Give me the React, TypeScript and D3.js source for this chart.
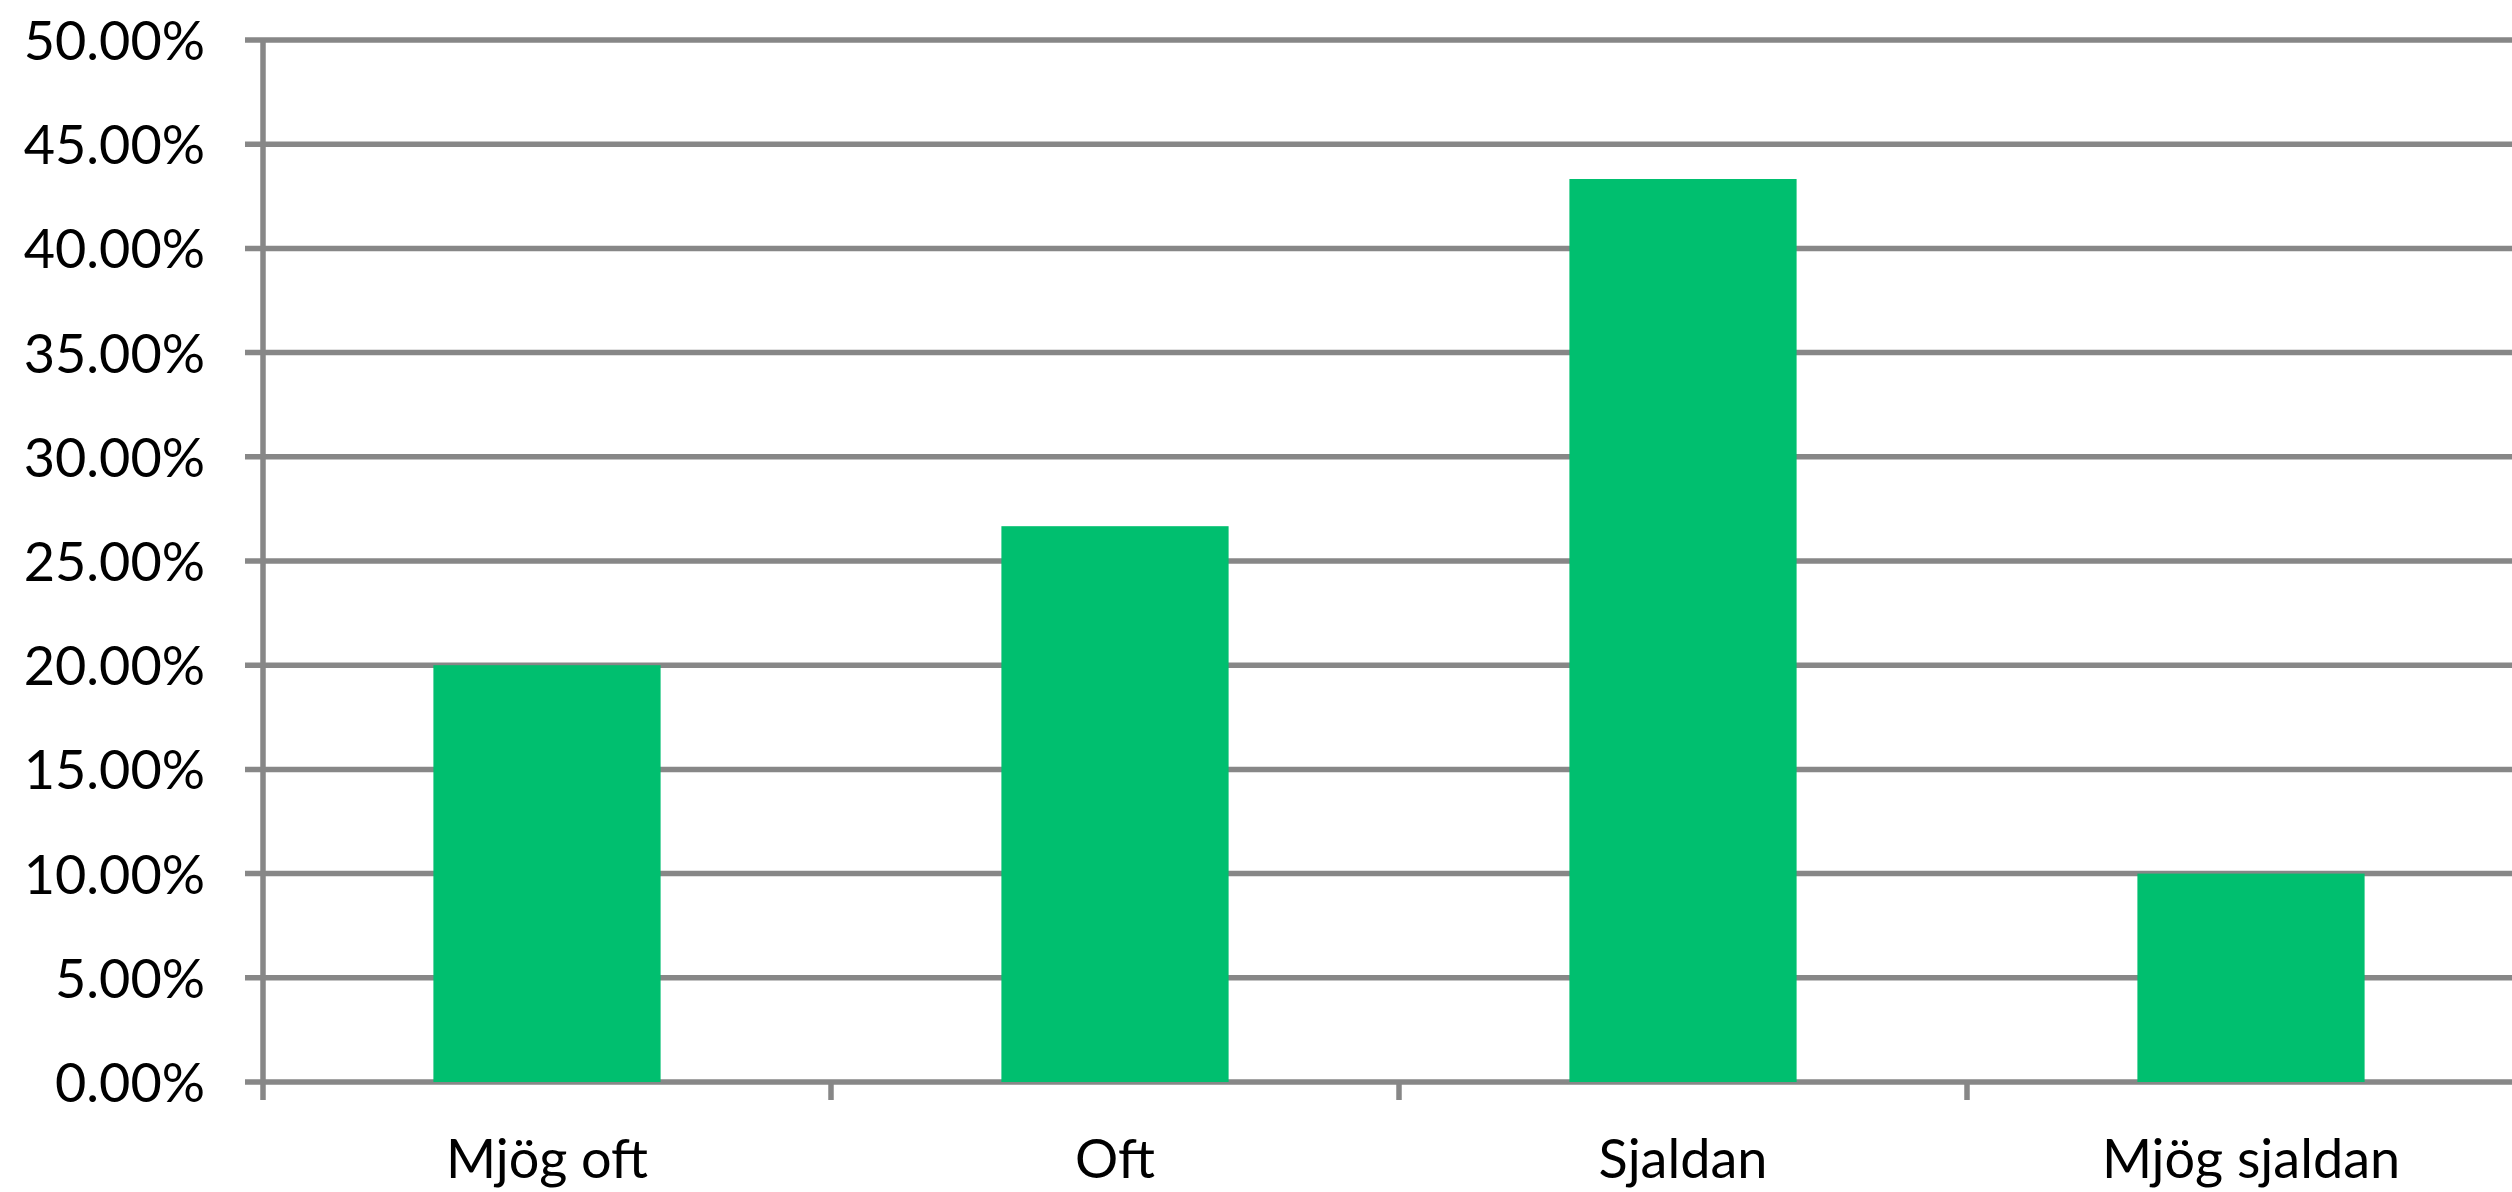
import * as d3 from "d3";

const categories = ["Mjög oft", "Oft", "Sjaldan", "Mjög sjaldan"];
const shares = [0.2, 0.2667, 0.4333, 0.1];
const yTicks = [0, 0.05, 0.1, 0.15, 0.2, 0.25, 0.3, 0.35, 0.4, 0.45, 0.5];

const WIDTH = 2512;
const HEIGHT = 1192;
const PLOT = { left: 263, top: 40, bottom: 1082, right: 2535 };
const GRID = "#878787";
const BAR = "#00bf6f";
const FONT = "Lato, 'Open Sans', sans-serif";

export default function App() {
    const x = d3
        .scaleBand<string>()
        .domain(categories)
        .range([PLOT.left, PLOT.right])
        .paddingInner(0.6)
        .paddingOuter(0.3);

    const y = d3.scaleLinear().domain([0, 0.5]).range([PLOT.bottom, PLOT.top]);
    const fmt = d3.format(".2%");

    const gridLines = yTicks.map((t) => (
        <line key={"g" + t} x1={PLOT.left - 18} x2={PLOT.right} y1={y(t)} y2={y(t)} stroke={GRID} strokeWidth={5.5} />
    ));

    const yLabels = yTicks.map((t) => (
        <text key={"l" + t} x={205} y={y(t) + 20} textAnchor="end" fontSize={54} fontFamily={FONT} fill="#000">
            {fmt(t)}
        </text>
    ));

    // category boundaries (tick marks below the axis)
    const xTicks = categories.slice(1).map((c) => {
        const bx = (x(c) as number) + x.bandwidth() / 2 - x.step() / 2;
        return <line key={"t" + c} x1={bx} x2={bx} y1={PLOT.bottom} y2={PLOT.bottom + 18} stroke={GRID} strokeWidth={5.5} />;
    });

    const bars = categories.map((c, i) => (
        <rect key={c} x={x(c)} width={x.bandwidth()} y={y(shares[i])} height={y(0) - y(shares[i])} fill={BAR} />
    ));

    const xLabels = categories.map((c) => (
        <text key={"x" + c} x={(x(c) as number) + x.bandwidth() / 2} y={1178} textAnchor="middle" fontSize={54} fontFamily={FONT} fill="#000">
            {c}
        </text>
    ));

    return (
        <svg width={WIDTH} height={HEIGHT} style={{ position: "absolute", left: 0, top: 0, background: "#fff" }}>
            {gridLines}
            {bars}
            <line x1={PLOT.left} x2={PLOT.left} y1={PLOT.top} y2={PLOT.bottom + 18} stroke={GRID} strokeWidth={5.5} />
            {xTicks}
            {yLabels}
            {xLabels}
        </svg>
    );
}
